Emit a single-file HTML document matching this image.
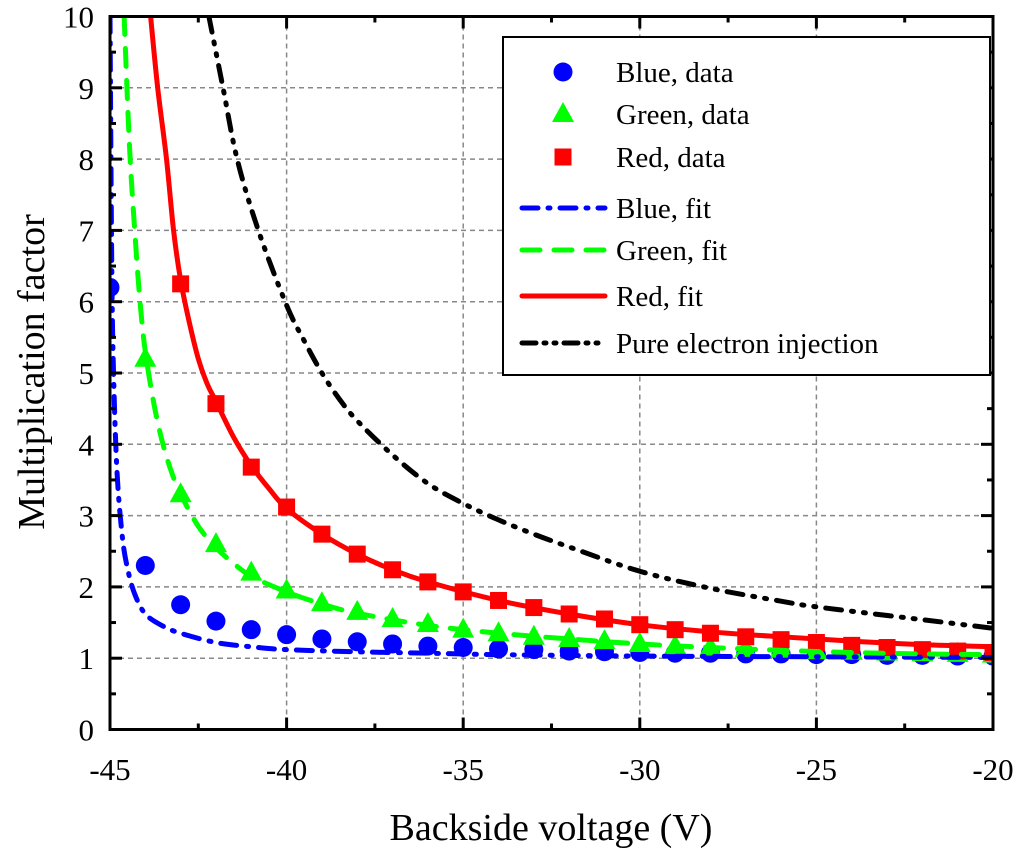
<!DOCTYPE html>
<html><head><meta charset="utf-8"><style>
body{margin:0;background:#fff;}
svg text{font-family:"Liberation Serif","Times New Roman","DejaVu Serif",serif;fill:#000;}
</style></head><body>
<svg id="chart" width="1024" height="856" xmlns="http://www.w3.org/2000/svg"></svg>
<script>
const xTicks=[-45,-40,-35,-30,-25,-20];
const yTicks=[0,1,2,3,4,5,6,7,8,9,10];
const dataV=[-45,-44,-43,-42,-41,-40,-39,-38,-37,-36,-35,-34,-33,-32,-31,-30,-29,-28,-27,-26,-25,-24,-23,-22,-21,-20];
const blueData=[6.2,2.3,1.75,1.52,1.4,1.33,1.27,1.23,1.2,1.17,1.15,1.13,1.12,1.1,1.09,1.08,1.07,1.07,1.06,1.06,1.05,1.05,1.04,1.04,1.03,1.03];
const greenV=[-44,-43,-42,-41,-40,-39,-38,-37,-36,-35,-34,-33,-32,-31,-30,-29,-28,-27,-26,-25,-24,-23,-22,-21,-20];
const greenData=[5.2,3.3,2.6,2.2,1.95,1.77,1.65,1.55,1.48,1.4,1.35,1.3,1.27,1.24,1.2,1.17,1.15,1.13,1.12,1.1,1.09,1.08,1.07,1.06,1.05];
const redV=[-43,-42,-41,-40,-39,-38,-37,-36,-35,-34,-33,-32,-31,-30,-29,-28,-27,-26,-25,-24,-23,-22,-21,-20];
const redData=[6.25,4.57,3.68,3.12,2.74,2.46,2.24,2.07,1.93,1.81,1.71,1.62,1.55,1.47,1.4,1.35,1.3,1.26,1.22,1.18,1.15,1.12,1.1,1.08];
const blueFitV=[-45,-44.95,-44.9,-44.8,-44.65,-44.5,-44.3,-44,-43.5,-43,-42,-41,-40,-38,-36,-34,-30,-25,-20];
const blueFit=[10,6.5,5,3.6,2.7,2.25,1.9,1.62,1.45,1.35,1.22,1.16,1.12,1.09,1.07,1.05,1.03,1.02,1.01];
const greenFitV=[-44.6,-44.45,-44.3,-44.15,-44,-43.75,-43.5,-43.25,-43,-42.5,-42,-41.5,-41,-40,-39,-38,-36,-34,-32,-30,-28,-26,-24,-22,-20];
const greenFit=[10,8.2,7,6.0,5.3,4.55,4.0,3.6,3.3,2.85,2.55,2.33,2.15,1.93,1.76,1.63,1.46,1.35,1.27,1.2,1.15,1.11,1.08,1.06,1.05];
const redFitV=[-43.85,-43.65,-43.4,-43.2,-43,-42.75,-42.5,-42.25,-42,-41.5,-41,-40.5,-40,-39,-38,-37,-36,-34,-32,-30,-28,-26,-24,-22,-20];
const redFit=[10,9,8,7,6.3,5.7,5.2,4.85,4.6,4.1,3.7,3.38,3.1,2.74,2.46,2.24,2.07,1.81,1.62,1.47,1.37,1.3,1.24,1.19,1.16];
const pureV=[-42.2,-41.8,-41.4,-40.8,-40,-39.5,-39,-38.5,-38,-37,-36,-35,-34,-33,-32,-30,-28,-26,-25,-22,-20];
const pureFit=[10,9,8,7,5.95,5.45,5.0,4.63,4.33,3.85,3.45,3.17,2.94,2.74,2.56,2.22,1.98,1.8,1.72,1.54,1.42];

const svg=document.getElementById('chart');
const NS='http://www.w3.org/2000/svg';
const L=110,R=993,T=16.5,B=729.5;
const sx=v=>L+(v+45)/25*(R-L);
const sy=v=>B-v/10*(B-T);
function mk(tag,attrs,parent){const e=document.createElementNS(NS,tag);for(const k in attrs)e.setAttribute(k,attrs[k]);(parent||svg).appendChild(e);return e;}
function smoothPath(P){let d='M'+P[0][0]+','+P[0][1];
for(let i=0;i<P.length-1;i++){const p0=P[i-1]||P[i],p1=P[i],p2=P[i+1],p3=P[i+2]||p2;
const c1=[p1[0]+(p2[0]-p0[0])/6,p1[1]+(p2[1]-p0[1])/6],c2=[p2[0]-(p3[0]-p1[0])/6,p2[1]-(p3[1]-p1[1])/6];
d+=` C${c1[0]},${c1[1]} ${c2[0]},${c2[1]} ${p2[0]},${p2[1]}`;}return d;}

const grid=mk('g',{});


xTicks.slice(1,-1).forEach(v=>{const l=mk('line',{x1:sx(v),x2:sx(v),y1:T,y2:B,stroke:'#888','stroke-width':1.5,'stroke-dasharray':'5,4'},grid);

});
yTicks.slice(1,-1).forEach(v=>{const l=mk('line',{x1:L,x2:R,y1:sy(v),y2:sy(v),stroke:'#888','stroke-width':1.5,'stroke-dasharray':'5,4'},grid);

});

const clip=mk('clipPath',{id:'pc'});mk('rect',{x:L,y:T,width:R-L,height:B-T},clip);
function curve(xs,ys,color,dash,name){const p=mk('path',{d:smoothPath(xs.map((x,i)=>[sx(x),sy(ys[i])])),fill:'none',stroke:color,'stroke-width':5,'stroke-dasharray':dash,'stroke-linecap':'round','clip-path':'url(#pc)'});

}
function pts(xs,ys,color,shape,name){const g=mk('g',{fill:color,'clip-path':'url(#pc)'});


xs.forEach((x,i)=>{const cx=sx(x),cy=sy(ys[i]);let e;
if(shape==='c')e=mk('circle',{cx:cx,cy:cy,r:9.5},g);
else if(shape==='t')e=mk('polygon',{points:`${cx},${cy-12} ${cx-11},${cy+8} ${cx+11},${cy+8}`},g);
else e=mk('rect',{x:cx-8.5,y:cy-8.5,width:17,height:17},g);

});}
pts(dataV,blueData,'#0000ff','c','blue-data');
pts(greenV,greenData,'#00ff00','t','green-data');
pts(redV,redData,'#ff0000','s','red-data');
curve(blueFitV,blueFit,'#0000ff','16,10,2,10','blue-fit');
curve(greenFitV,greenFit,'#00ff00','18,14','green-fit');
curve(redFitV,redFit,'#ff0000','','red-fit');
curve(pureV,pureFit,'#000','16,10,2,10,2,10','pure-electron-injection');

const ax=mk('rect',{x:L,y:T,width:R-L,height:B-T,fill:'none',stroke:'#000','stroke-width':3});


for(let v=-45;v<=-20;v+=2.5){const len=(v%5===0)?12:6;
mk('line',{x1:sx(v),x2:sx(v),y1:B,y2:B-len,stroke:'#000','stroke-width':3});
mk('line',{x1:sx(v),x2:sx(v),y1:T,y2:T+len,stroke:'#000','stroke-width':3});}
for(let v=0;v<=10;v+=0.5){const len=(v%1===0)?12:6;
mk('line',{x1:L,x2:L+len,y1:sy(v),y2:sy(v),stroke:'#000','stroke-width':3});
mk('line',{x1:R,x2:R-len,y1:sy(v),y2:sy(v),stroke:'#000','stroke-width':3});}
xTicks.forEach(v=>{const t=mk('text',{x:sx(v),y:780,'font-size':31,'text-anchor':'middle'});t.textContent=v;

});
yTicks.forEach(v=>{const t=mk('text',{x:L-16,y:sy(v)+11,'font-size':31,'text-anchor':'end'});t.textContent=v;

});
const xt=mk('text',{x:551,y:840,'font-size':38,'text-anchor':'middle'});xt.textContent='Backside voltage (V)';


const yt=mk('text',{x:0,y:0,'font-size':38,'text-anchor':'middle',transform:'translate(44,372) rotate(-90)'});yt.textContent='Multiplication factor';



const lg=mk('g',{});


mk('rect',{x:503,y:37,width:487,height:338,fill:'#fff',stroke:'#000','stroke-width':2},lg);
const items=[['Blue, data','#0000ff','c',72],['Green, data','#00ff00','t',114],['Red, data','#ff0000','s',157],['Blue, fit','#0000ff','16,10,2,10',208],['Green, fit','#00ff00','18,14',250],['Red, fit','#ff0000','',296],['Pure electron injection','#000','14,8,2,8,2,8',343]];
items.forEach(([lab,c,s,y])=>{const g=mk('g',{},lg);


const cx=563;
if(s==='c')mk('circle',{cx:cx,cy:y,r:9.5,fill:c},g);
else if(s==='t')mk('polygon',{points:`${cx},${y-12} ${cx-11},${y+8} ${cx+11},${y+8}`,fill:c},g);
else if(s==='s')mk('rect',{x:cx-8.5,y:y-8.5,width:17,height:17,fill:c},g);
else mk('line',{x1:522,x2:605,y1:y,y2:y,stroke:c,'stroke-width':5,'stroke-dasharray':s,'stroke-linecap':'round'},g);
const t=mk('text',{x:616,y:y+10,'font-size':29},g);t.textContent=lab;});
</script>
</body></html>
